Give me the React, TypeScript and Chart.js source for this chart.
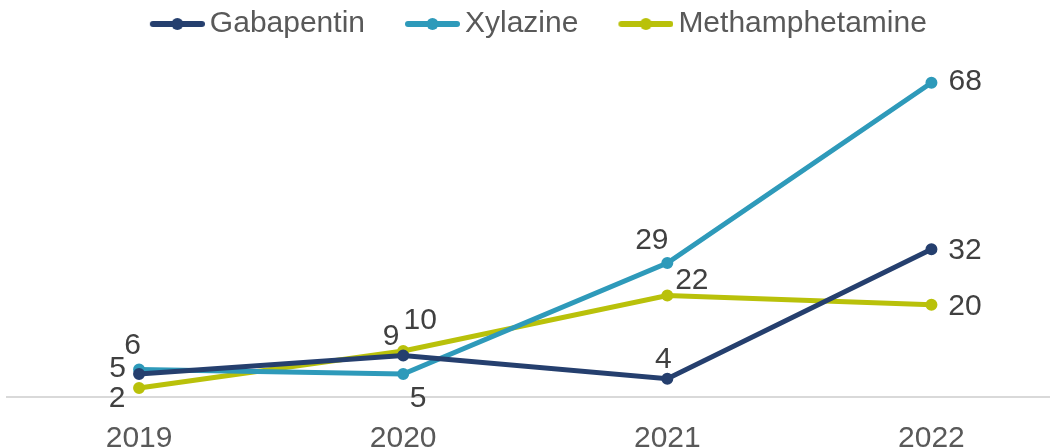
import React, { useEffect, useRef } from "react";
import { Chart, registerables } from "chart.js";

Chart.register(...registerables);

const YEARS = ["2019", "2020", "2021", "2022"];
const GABAPENTIN = [5, 9, 4, 32];
const XYLAZINE = [6, 5, 29, 68];
const METHAMPHETAMINE = [2, 10, 22, 20];

const SERIES_NAMES = ["Gabapentin", "Xylazine", "Methamphetamine"];
const SERIES_COLORS = ["#253F6E", "#2E9ABA", "#B9C10A"];

// label offsets (visual centre relative to point), per series, per year
const LABEL_OFFSETS = [
  [[-21.5, -8], [-12, -21], [-4, -21], [33.5, -1]],
  [[-6.5, -26.5], [15, 22], [-15.5, -24.6], [33.7, -3]],
  [[-22, 8.5], [17, -33], [24.5, -17], [33.5, 0]],
];

const FONT = "'Liberation Sans', Arial, sans-serif";

function makeLegendImage(color: string): HTMLCanvasElement {
  const c = document.createElement("canvas");
  c.width = 65;
  c.height = 14;
  const ctx = c.getContext("2d")!;
  ctx.strokeStyle = color;
  ctx.lineWidth = 6;
  ctx.lineCap = "round";
  ctx.beginPath();
  ctx.moveTo(13, 7);
  ctx.lineTo(62, 7);
  ctx.stroke();
  ctx.fillStyle = color;
  ctx.beginPath();
  ctx.arc(37.5, 7, 6, 0, Math.PI * 2);
  ctx.fill();
  return c;
}

const dataLabelPlugin = {
  id: "dataLabels",
  afterDatasetsDraw(chart: any) {
    const ctx = chart.ctx;
    ctx.save();
    ctx.font = `30px ${FONT}`;
    ctx.fillStyle = "#404040";
    ctx.textAlign = "center";
    ctx.textBaseline = "alphabetic";
    chart.data.datasets.forEach((ds: any, di: number) => {
      const meta = chart.getDatasetMeta(di);
      meta.data.forEach((pt: any, i: number) => {
        const [dx, dy] = LABEL_OFFSETS[di][i];
        ctx.fillText(String(ds.data[i]), pt.x + dx, pt.y + dy + 10.7);
      });
    });
    ctx.restore();
  },
};

export default function App() {
  const ref = useRef<HTMLCanvasElement>(null);

  useEffect(() => {
    const values = [GABAPENTIN, XYLAZINE, METHAMPHETAMINE];
    const images = SERIES_COLORS.map(makeLegendImage);
    const chart = new Chart(ref.current!, {
      type: "line",
      data: {
        labels: YEARS,
        datasets: values.map((v, i) => ({
          label: SERIES_NAMES[i],
          data: v,
          borderColor: SERIES_COLORS[i],
          backgroundColor: SERIES_COLORS[i],
          borderWidth: 5,
          pointRadius: 5,
          pointBorderWidth: 2,
          pointBackgroundColor: SERIES_COLORS[i],
          pointBorderColor: SERIES_COLORS[i],
          tension: 0,
          fill: false,
          clip: false as any,
        })),
      },
      options: {
        responsive: false,
        animation: false,
        devicePixelRatio: 1,
        layout: { padding: { left: 4.7, right: 0, top: 0, bottom: 10.8 } },
        plugins: {
          tooltip: { enabled: false },
          legend: {
            display: true,
            position: "top",
            labels: {
              usePointStyle: true,
              pointStyleWidth: 45,
              padding: 40,
              color: "#595959",
              font: { family: FONT, size: 30 },
              generateLabels: (c: any) =>
                c.data.datasets.map((ds: any, i: number) => ({
                  text: ds.label,
                  fillStyle: ds.borderColor,
                  strokeStyle: ds.borderColor,
                  lineWidth: 0,
                  pointStyle: images[i],
                  hidden: false,
                  datasetIndex: i,
                  fontColor: "#595959",
                })),
            },
          },
        },
        scales: {
          x: {
            offset: true,
            grid: { display: false, drawTicks: false },
            border: { display: true, color: "#D9D9D9", width: 2 },
            ticks: {
              padding: 24,
              color: "#595959",
              font: { family: FONT, size: 30 },
              maxRotation: 0,
              autoSkip: false,
            },
          },
          y: {
            position: "right",
            min: 0,
            max: 75.3,
            grid: { display: false, drawTicks: false },
            border: { display: false },
            ticks: { display: false },
            afterFit: (s: any) => {
              s.width = 8.5;
            },
          },
        },
      },
      plugins: [dataLabelPlugin],
    });
    return () => chart.destroy();
  }, []);

  return (
    <div
      style={{
        position: "absolute",
        left: 0,
        top: 0,
        width: 1050,
        height: 448,
        overflow: "hidden",
        background: "#fff",
      }}
    >
      <canvas
        ref={ref}
        width={1072}
        height={523}
        style={{ position: "absolute", left: 0, top: -31, width: 1072, height: 523 }}
      />
    </div>
  );
}
